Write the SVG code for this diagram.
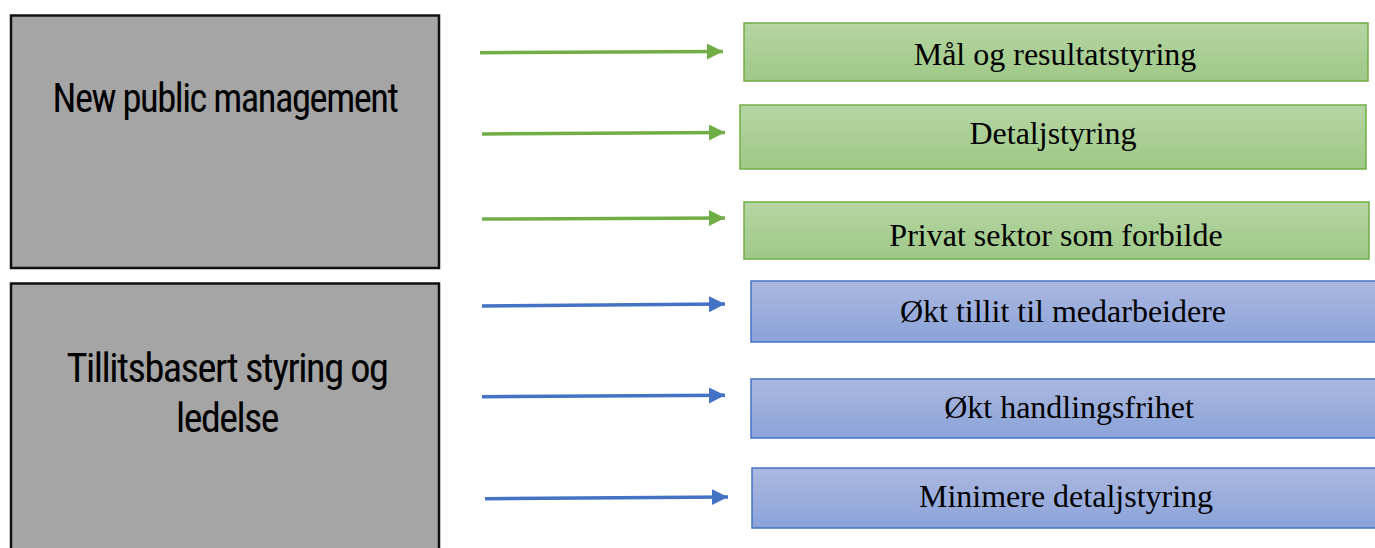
<svg xmlns="http://www.w3.org/2000/svg" width="1375" height="548" viewBox="0 0 1375 548">
<style>
.main{fill:#a5a5a5;stroke:#111;stroke-width:2.5}
.mt{font-family:Roboto,"Liberation Sans",sans-serif;font-size:40px;fill:#000;text-anchor:middle;font-stretch:condensed;letter-spacing:-1.5px}
.g{fill:url(#gg);stroke:#70ad47;stroke-width:1.5}
.b{fill:url(#bg);stroke:#4472c4;stroke-width:1.5}
.t{font-family:"Liberation Serif","Times New Roman",serif;font-size:32px;fill:#000;text-anchor:middle}
.ga{stroke:#70ad47;stroke-width:3.5;fill:none;marker-end:url(#ah-g)}
.ba{stroke:#4472c4;stroke-width:3.5;fill:none;marker-end:url(#ah-b)}
</style>
<defs>
<linearGradient id="gg" x1="0" y1="0" x2="0" y2="1"><stop offset="0" stop-color="#b5d5a3"/><stop offset="1" stop-color="#9fc987"/></linearGradient>
<linearGradient id="bg" x1="0" y1="0" x2="0" y2="1"><stop offset="0" stop-color="#abb8e0"/><stop offset="1" stop-color="#8ba3d9"/></linearGradient>
<marker id="ah-g" markerUnits="userSpaceOnUse" markerWidth="18" markerHeight="18" refX="16" refY="8" orient="auto"><path d="M0,0 L16,8 L0,16 Z" fill="#70ad47"/></marker>
<marker id="ah-b" markerUnits="userSpaceOnUse" markerWidth="18" markerHeight="18" refX="16" refY="8" orient="auto"><path d="M0,0 L16,8 L0,16 Z" fill="#4472c4"/></marker>
</defs>
<g id="npm">
<rect class="main" x="11" y="15.5" width="428" height="252.5"/>
<text class="mt" x="225" y="112" textLength="345" lengthAdjust="spacingAndGlyphs">New public management</text>
</g>
<g id="tillit">
<rect class="main" x="11" y="283.5" width="428" height="280"/>
<text class="mt" x="227" y="382" textLength="321" lengthAdjust="spacingAndGlyphs">Tillitsbasert styring og</text>
<text class="mt" x="227" y="432" textLength="102" lengthAdjust="spacingAndGlyphs">ledelse</text>
</g>
<g id="connectors">
<path class="ga" d="M480,52.7 L723,51.5"/>
<path class="ga" d="M482,134 L725,132.5"/>
<path class="ga" d="M482,219 L725,218"/>
<path class="ba" d="M482,306 L725,304"/>
<path class="ba" d="M482,396.7 L725,395.3"/>
<path class="ba" d="M485,498.7 L728,497"/>
</g>
<g id="n1"><rect class="g" x="744" y="23" width="624" height="58"/><text class="t" x="1055" y="65">Mål og resultatstyring</text></g>
<g id="n2"><rect class="g" x="740" y="105" width="626" height="64"/><text class="t" x="1053" y="144">Detaljstyring</text></g>
<g id="n3"><rect class="g" x="744" y="202" width="625" height="57"/><text class="t" x="1056" y="246">Privat sektor som forbilde</text></g>
<g id="n4"><rect class="b" x="751" y="281" width="630" height="61"/><text class="t" x="1063" y="322">Økt tillit til medarbeidere</text></g>
<g id="n5"><rect class="b" x="751" y="379" width="630" height="59"/><text class="t" x="1069" y="418">Økt handlingsfrihet</text></g>
<g id="n6"><rect class="b" x="752" y="468" width="630" height="60"/><text class="t" x="1066" y="507">Minimere detaljstyring</text></g>
</svg>
